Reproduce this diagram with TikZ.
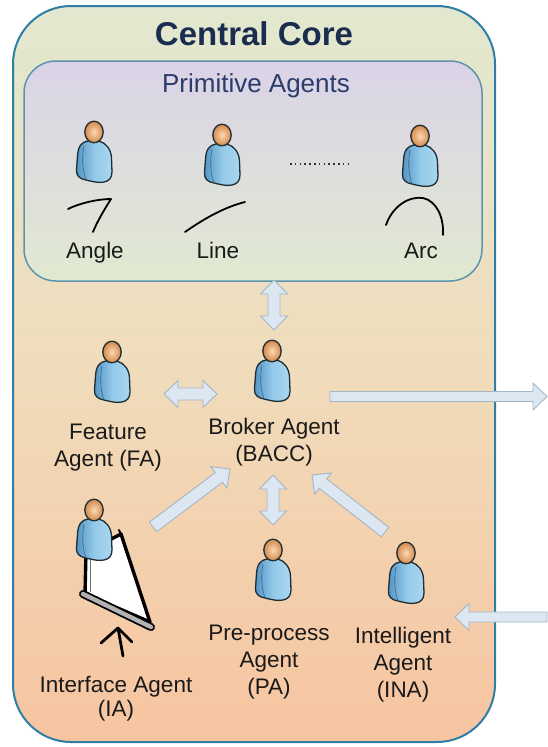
\documentclass[tikz,border=0pt]{standalone}
\usepackage{fontspec}
\setmainfont{Liberation Sans}
\usetikzlibrary{calc}

\definecolor{coreBorder}{HTML}{2F7EA6}
\definecolor{coreTop}{HTML}{E2E8CF}
\definecolor{coreMid}{HTML}{F0DCBB}
\definecolor{coreBot}{HTML}{F7C4A0}
\definecolor{primBorder}{HTML}{5E93AD}
\definecolor{primTop}{HTML}{DAD3E7}
\definecolor{primBot}{HTML}{E1E9D1}
\definecolor{titleInk}{HTML}{1B2D4F}
\definecolor{primInk}{HTML}{2A3B6C}
\definecolor{labelInk}{HTML}{1A1A1A}
\definecolor{arrowFill}{HTML}{DDE7F1}
\definecolor{arrowLine}{HTML}{A3B6C8}
\definecolor{headIn}{HTML}{FBD9B3}
\definecolor{headOut}{HTML}{D4884C}
\definecolor{bodyDark}{HTML}{5393C5}
\definecolor{bodyMid}{HTML}{93C9E9}
\definecolor{bodyLight}{HTML}{A9D7F0}
\definecolor{iconLine}{HTML}{1F2E33}

% arrow geometry: direction and length between two named points
\newcommand\arrowgeom[2]{%
  \path (#1); \pgfgetlastxy{\fax}{\fay}%
  \path (#2); \pgfgetlastxy{\fbx}{\fby}%
  \pgfmathsetmacro\fang{atan2(\fby-\fay,\fbx-\fax)}%
  \pgfmathsetmacro\flen{veclen(\fbx-\fax,\fby-\fay)}%
}
% fat block arrows: #1 shaft half width, #2 from, #3 to
\newcommand\fatsingle[3]{%
  \arrowgeom{#2}{#3}%
  \begin{scope}[shift={(#2)}, rotate=\fang]
    \draw[fatarrow] (0,-#1) -- ({\flen-14},-#1) -- ({\flen-14},-13.5) -- (\flen,0)
      -- ({\flen-14},13.5) -- ({\flen-14},#1) -- (0,#1) -- cycle;
  \end{scope}}
\newcommand\fatdouble[3]{%
  \arrowgeom{#2}{#3}%
  \begin{scope}[shift={(#2)}, rotate=\fang]
    \draw[fatarrow] (0,0) -- (14,-13.5) -- (14,-#1) -- ({\flen-14},-#1) -- ({\flen-14},-13.5)
      -- (\flen,0) -- ({\flen-14},13.5) -- ({\flen-14},#1) -- (14,#1) -- (14,13.5) -- cycle;
  \end{scope}}

\newcommand\lbl[1]{\begin{tabular}[t]{@{}c@{}}#1\end{tabular}}

\begin{document}
\begin{tikzpicture}[x=1pt, y=-1pt,
  fatarrow/.style={fill=arrowFill, draw=arrowLine, line width=0.9pt, line join=miter},
  label/.style={inner sep=0pt, anchor=base, text=labelInk,
    font=\fontsize{22.5}{27}\selectfont},
  glyph/.style={draw=black, line width=1.8pt, line cap=round, line join=round},
  pics/person/.style={code={
    \path[draw=iconLine, line width=1.3pt, line join=round,
          left color=bodyDark, right color=bodyLight, middle color=bodyMid]
      (-6,9) .. controls (-13,10) and (-16,15) .. (-16.5,24)
      -- (-17.5,38) .. controls (-18,44) and (-14,47) .. (-8,48)
      .. controls (0,50) and (5,51) .. (10,50)
      .. controls (15,49) and (18,46) .. (18,40)
      -- (17.5,26) .. controls (17,17) and (12,11) .. (5,9) -- cycle;
    \draw[bodyDark!70!black, line width=0.6pt]
      (-10,14) .. controls (-12,24) and (-12,38) .. (-8,47.5);
    \path[draw=iconLine, line width=1.3pt, inner color=headIn, outer color=headOut]
      (0,0) ellipse [x radius=9.2, y radius=10.8];
  }}]
\useasboundingbox (0,0) rectangle (548,747);

% central core container
\path[draw=coreBorder, line width=2pt, rounded corners=58pt,
      top color=coreTop, bottom color=coreBot, middle color=coreMid]
  (13,6) rectangle (495,742);
\node[inner sep=0pt, anchor=base, text=titleInk,
      font=\fontsize{33}{36}\selectfont\bfseries] (title) at (254,45) {Central Core};

% primitive agents panel
\path[draw=primBorder, line width=1.5pt, rounded corners=32pt,
      top color=primTop, bottom color=primBot]
  (24,61) rectangle (482,281);
\node[inner sep=0pt, anchor=base, text=primInk,
      font=\fontsize{26}{30}\selectfont] (primTitle) at (256,92) {Primitive Agents};

% primitive agents and their shapes
\coordinate (pAngle) at (94,132);
\coordinate (pLine) at (222,135);
\coordinate (pArc) at (420,136);
\pic at (pAngle) {person};
\pic at (pLine) {person};
\pic at (pArc) {person};
\coordinate (dotsL) at (290,164);
\coordinate (dotsR) at (350,164);
\draw[black!80, line width=1.5pt, dash pattern=on 1.5pt off 3.3pt] (dotsL) -- (dotsR);

\draw[glyph] (68,209) .. controls (80,203) and (98,199) .. (111,199)
  .. controls (104,210) and (97,222) .. (93,232);
\draw[glyph] (185,232) .. controls (205,218) and (225,207) .. (245,202);
\draw[glyph] (386,225) .. controls (393,205) and (410,196) .. (423,198)
  .. controls (437,201) and (444,218) .. (443,235);

\node[label] (tAngle) at (95,258) {Angle};
\node[label] (tLine) at (218,258) {Line};
\node[label] (tArc) at (421,258) {Arc};

% agents of the core
\coordinate (pFeature) at (112,352);
\coordinate (pBroker) at (272,351);
\coordinate (pInterface) at (94,510);
\coordinate (pPre) at (273,550);
\coordinate (pIntel) at (406,553);

% projection screen of the interface agent: tripod, sheet, roller
\draw[black, line width=2.8pt, line cap=round, line join=round]
  (101,643) -- (118,628) -- (123,656) (118,628) -- (132,642);
\draw[black, line width=3.4pt, fill=white, line join=round]
  (86,552) -- (121,534) -- (150,622) -- (85,594) -- cycle;
\draw[black!55, line width=1pt] (90,556) -- (90,592);
\draw[black, line width=2pt, line cap=round] (119,530) -- (122,537);
\draw[black, line width=8pt, line cap=round] (83,594) -- (151,627);
\draw[black!30, line width=4.4pt, line cap=round] (83,594) -- (151,627);

\pic at (pFeature) {person};
\pic at (pBroker) {person};
\pic at (pInterface) {person};
\pic at (pPre) {person};
\pic at (pIntel) {person};

\node[label] (tFeature) at (108,439) {\lbl{Feature\\Agent (FA)}};
\node[label] (tBroker) at (274,434) {\lbl{Broker Agent\\(BACC)}};
\node[label] (tPre) at (269,640) {\lbl{Pre-process\\Agent\\(PA)}};
\node[label] (tIntel) at (403,643) {\lbl{Intelligent\\Agent\\(INA)}};
\node[label, font=\fontsize{22.5}{24.5}\selectfont] (tInterface) at (116,692)
  {\lbl{Interface Agent\\(IA)}};

% connector end points
\coordinate (panelLink) at (274,280);
\coordinate (brokerTop) at (274,330);
\coordinate (featRight) at (164,394);
\coordinate (brokerLeft) at (217,394);
\coordinate (brokerOut) at (330,396.5);
\coordinate (outEnd) at (547,396.5);
\coordinate (ifaceTail) at (153,527);
\coordinate (brokerSW) at (230,469);
\coordinate (brokerBottom) at (273,475);
\coordinate (preTop) at (273,525);
\coordinate (intelTail) at (385,532);
\coordinate (brokerSE) at (312,475);
\coordinate (inStart) at (547,617);
\coordinate (intelRight) at (455,617);

\fatdouble{6}{panelLink}{brokerTop}
\fatdouble{6}{featRight}{brokerLeft}
\fatsingle{5}{brokerOut}{outEnd}
\fatsingle{6}{ifaceTail}{brokerSW}
\fatdouble{6}{brokerBottom}{preTop}
\fatsingle{6}{intelTail}{brokerSE}
\fatsingle{5}{inStart}{intelRight}
\end{tikzpicture}
\end{document}
